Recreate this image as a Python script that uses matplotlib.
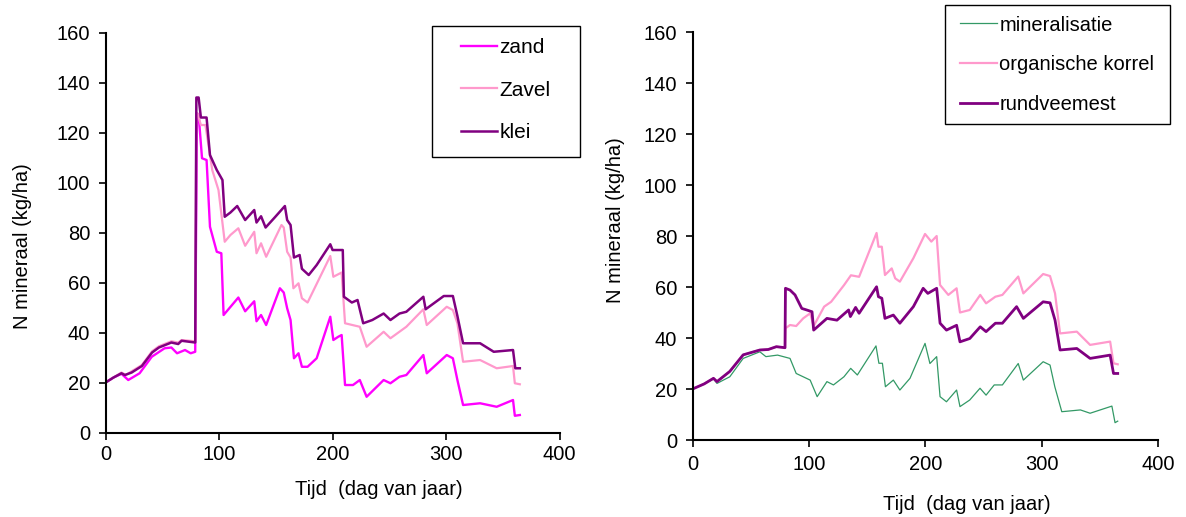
import matplotlib
matplotlib.use("Agg")
import matplotlib.pyplot as plt
from matplotlib.patches import Rectangle

plt.rcParams['font.family'] = ['Liberation Sans', 'DejaVu Sans']

# links: N mineraal per grondsoort (dag van jaar, kg/ha)
zand_dag = [0, 7, 14, 20, 30, 40.7, 52, 58, 63, 70, 75, 79, 80.5, 82, 85, 89, 92, 98, 102, 104,
            117, 123, 131, 133, 137, 141.5, 153.6, 157, 160, 163, 166, 170, 173, 178, 186, 198,
            200.7, 205, 208, 211, 218, 224, 230, 245, 251, 259, 265, 280, 283, 300.6, 306, 310,
            315, 330, 344.6, 359, 360.6, 365]
zand_n = [20, 22, 23.5, 21, 23.7, 30.3, 33.7, 34, 31.7, 33, 31.7, 32.3, 127.7, 127, 109.7, 109, 82.3, 72.3, 71.7, 47,
          54, 48.5, 52.5, 44.5, 47, 43, 57.7, 56, 49.7, 45, 29.7, 31.7, 26.3, 26.3, 29.7, 46.3,
          37, 38.3, 39, 19, 19, 21, 14.3, 21, 19.7, 22.3, 23, 31, 23.7, 31, 29.7, 21,
          11, 11.7, 10.3, 13, 6.7, 7]

zavel_dag = [0, 7, 14, 18, 23, 32, 41, 47, 58, 64, 67, 79, 80, 81, 84, 88, 94, 99.5, 105,
             110, 117, 123, 131, 133, 137, 141.5, 155, 157, 160, 163, 165.5, 170, 173, 178, 198,
             200.7, 208, 211, 224, 230, 245, 251, 265, 280, 283, 300.6, 306, 310,
             315, 330, 344.6, 359, 360.6, 365]
zavel_n = [20, 22, 24, 23, 24.5, 27, 32.5, 34.5, 36.5, 36, 37, 36.5, 127.7, 127.7, 123, 123, 105, 97, 76.3,
           79, 81.7, 74.7, 80.3, 71.7, 75.7, 70.3, 83, 82, 72.3, 70, 57.7, 59.7, 53.7, 52, 70.6,
           62.3, 64, 43.7, 42.3, 34.3, 40.3, 37.7, 42.3, 49.3, 43, 50.3, 49, 43.7,
           28.3, 29, 25.7, 26.6, 19.7, 19.3]

klei_dag = [0, 7, 14, 17, 23, 32, 41, 47, 58, 64, 67, 79, 80, 82, 84, 89, 92, 98, 103, 105,
            110, 116, 123, 131, 133, 137, 141, 149, 158, 160, 163, 166, 171, 173, 179, 186, 198,
            200, 205, 209, 210, 217, 222, 227, 235, 245, 251, 259, 265, 280, 282, 298, 306, 310,
            315, 330, 342, 359, 361, 365]
klei_n = [20, 22, 23.7, 23, 24, 26.6, 32, 34, 36, 35.4, 36.7, 36, 134, 134, 126, 126, 111, 105, 101, 86.3,
          88, 90.6, 85, 89, 84, 86.5, 82, 86, 90.6, 85, 83, 70, 71, 65.5, 63, 67, 75.3,
          73, 73, 73, 54.3, 52, 53, 43.7, 45, 47.6, 45, 47.6, 48.3, 54.3, 49.3, 54.6, 54.6, 46.6,
          35.7, 35.7, 32.3, 33, 25.7, 25.7]

# rechts: N mineraal per bemesting
mineral_dag = [0, 10, 18, 21, 32, 43.5, 57.8, 63, 73, 83.7, 89, 95, 101, 107, 115.4, 121, 130, 135.8,
               141.5, 157.5, 160, 163, 165.6, 172.4, 178, 186.7, 199.6, 203.8, 209.6, 212.5, 218,
               226.7, 229.6, 238, 246.8, 252, 259, 266, 279.6, 284, 301, 306.9, 311, 317, 333,
               341.3, 360, 362.7, 365]
mineral_n = [20, 22, 24, 22.2, 24.8, 32, 34.6, 32.7, 33.3, 32, 26.1, 24.8, 23.5, 17, 22.9, 21.6, 24.8, 28.1,
             25.5, 36.9, 30.1, 30.1, 20.9, 23.5, 19.6, 24.2, 37.9, 30, 32.7, 17, 15,
             19.6, 13.1, 15.7, 20.3, 17.6, 21.6, 21.6, 30, 23.5, 30.7, 29.4, 20.9, 11.1, 11.8,
             10.5, 13.3, 6.8, 7.4]

korrel_dag = [0, 10, 18, 21, 32, 43.5, 57.8, 65, 72, 79.4, 79.8, 83.7, 89, 95, 101, 104, 113, 119,
              130, 136, 143, 158, 159.6, 162.5, 165.2, 171, 174, 178, 189.6, 199.6, 205, 209.6,
              212.5, 219.6, 226.7, 229.6, 238, 247, 252, 260, 266, 279.6, 284, 301, 306.9, 311.2,
              315.5, 329.9, 341.3, 358.5, 361.4, 365]
korrel_n = [20, 22, 24.2, 22.9, 26.9, 33.4, 35.3, 35.5, 36.6, 36.2, 43.8, 45.1, 44.7, 47.7, 49.7, 44.7, 52.3, 54.2,
            60.7, 64.6, 64, 81.2, 75.8, 75.8, 64.7, 67.3, 63.4, 62.1, 71.3, 80.8, 77.8, 80,
            60.8, 56.9, 59.5, 50, 51, 56.9, 53.6, 56.2, 56.9, 64.1, 57.5, 65.1, 64.3, 57.5,
            41.8, 42.5, 37.3, 38.6, 30.1, 29.7]

rund_dag = [0, 10, 18, 21, 32, 43.5, 57.8, 65, 72, 79.4, 79.8, 83.7, 88, 93.8, 98, 102.6, 104, 115.4,
            124, 134, 135.5, 140, 143, 158, 159.6, 162.5, 165.2, 172.4, 178, 189.6, 198, 202,
            209.6, 212.5, 218, 226.7, 229.6, 238, 247, 252, 260, 266, 278.2, 284, 301, 306.9,
            311.2, 315.5, 329.9, 341.3, 358.5, 361.4, 365]
rund_n = [20, 22, 24.2, 22.9, 26.9, 33.4, 35.3, 35.5, 36.6, 36.2, 59.5, 58.8, 56.9, 51.6, 51, 50.3, 43.1, 47.7,
          47, 51, 48.4, 52, 49.7, 60.1, 56.2, 55.6, 47.7, 49, 45.8, 52.3, 59.5, 57.5,
          59.5, 45.8, 43.1, 45, 38.5, 39.8, 44.4, 42.5, 45.8, 45.8, 52.3, 47.7, 54.2, 53.8,
          47, 35.3, 35.9, 32, 33.3, 26.1, 26.1]

fig = plt.figure(figsize=(11.86, 5.17), dpi=100)
ax1 = fig.add_axes([0.0890, 0.1634, 0.3828, 0.7737])
ax2 = fig.add_axes([0.5839, 0.1489, 0.3929, 0.7892])


def opmaak(ax, xpad):
    ax.set_xlim(0, 400)
    ax.set_ylim(0, 160)
    ax.set_xticks(range(0, 401, 100))
    ax.set_yticks(range(0, 161, 20))
    for s in ['top', 'right']:
        ax.spines[s].set_visible(False)
    for s in ['left', 'bottom']:
        ax.spines[s].set_linewidth(1.5)
    ax.tick_params(direction='out', length=5, width=1.2, labelsize=14.5)
    ax.tick_params(axis='y', pad=6)
    ax.tick_params(axis='x', pad=xpad)
    ax.set_ylabel('N mineraal (kg/ha)', fontsize=14.5)
    ax.set_xlabel('Tijd  (dag van jaar)', fontsize=14.5)


ax1.plot(zand_dag, zand_n, color='#FF00FF', lw=1.7, label='zand')
ax1.plot(zavel_dag, zavel_n, color='#FF99CC', lw=1.6, label='Zavel')
ax1.plot(klei_dag, klei_n, color='#800080', lw=1.8, label='klei')
opmaak(ax1, 4)
ax1.xaxis.set_label_coords(0.602, -0.119)
ax1.yaxis.set_label_coords(-0.162, 0.466)
ax1.legend(loc='upper left', bbox_to_anchor=(0.3887, 0.9265), bbox_transform=fig.transFigure,
           fontsize=15, frameon=False, handlelength=1.73, handletextpad=0.12,
           labelspacing=1.13, borderpad=0, borderaxespad=0)
fig.patches.append(Rectangle((0.3642, 0.6963), 0.1248, 0.2534, transform=fig.transFigure,
                             fill=False, edgecolor='black', lw=1))

ax2.plot(mineral_dag, mineral_n, color='#339966', lw=0.9, label='mineralisatie')
ax2.plot(korrel_dag, korrel_n, color='#FF99CC', lw=1.6, label='organische korrel')
ax2.plot(rund_dag, rund_n, color='#800080', lw=2, label='rundveemest')
opmaak(ax2, 6)
ax2.xaxis.set_label_coords(0.589, -0.135)
ax2.yaxis.set_label_coords(-0.145, 0.539)
ax2.legend(loc='upper left', bbox_to_anchor=(0.8094, 0.97), bbox_transform=fig.transFigure,
           fontsize=14.5, frameon=False, handlelength=1.84, handletextpad=0.12,
           labelspacing=1.03, borderpad=0, borderaxespad=0)
fig.patches.append(Rectangle((0.7968, 0.7602), 0.1897, 0.2302, transform=fig.transFigure,
                             fill=False, edgecolor='black', lw=1))

fig.savefig('out.png', dpi=100)
